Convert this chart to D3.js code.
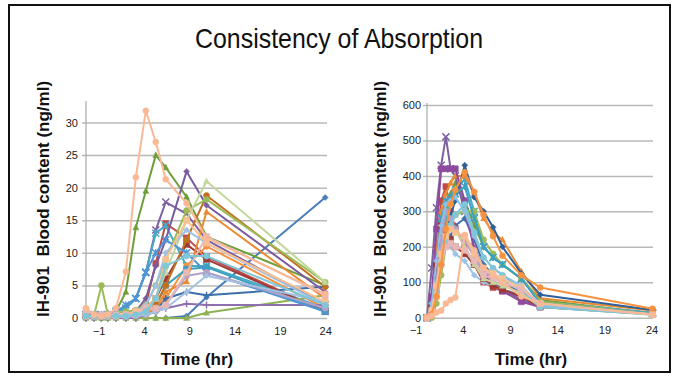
<!DOCTYPE html>
<html>
<head>
<meta charset="utf-8">
<script src="https://cdn.jsdelivr.net/npm/d3@7"></script>
<style>
  body { margin: 0; background: #fff; }
  svg { display: block; }
  text { font-family: "Liberation Sans", Arial, sans-serif; }
</style>
</head>
<body>
<div id="chart"></div>
<script>
// sample times (hr, as plotted on the axis)
const leftTimes = [-2.4, -1.5, -0.7, 0, 0.9, 2.0, 3.1, 4.2, 5.3, 6.4, 8.7, 10.9, 24];
const rightTimes = [0.2, 0.7, 1.2, 1.7, 2.2, 2.7, 3.2, 4.2, 5.2, 6.2, 7.2, 8.2, 10.2, 12.2, 24.1];

const xTicks = [-1, 4, 9, 14, 19, 24];
const leftYTicks = [0, 5, 10, 15, 20, 25, 30];
const rightYTicks = [0, 100, 200, 300, 400, 500, 600];

// left panel, ng/ml, one row per subject
const leftValues = [
  [0, 0, 0, 0, 0, 0, 0, 0, 0, 0, 0.3, 3.2, 18.5],
  [0.3, 0.3, 0.3, 0.3, 0.3, 0.5, 1, 2, 8.4, 14.5, 12.3, 9.4, 1],
  [0.5, 0.5, 0.5, 0.8, 1, 4, 13.9, 19.5, 25, 23.1, 18.6, 12.5, 5],
  [0.5, 0.5, 0.5, 0.5, 1, 1.5, 3, 7, 13.5, 17.8, 16, 12, 2],
  [0.5, 0.5, 0.5, 0.5, 1, 1.5, 3, 7, 13, 14.2, 8, 8, 1.5],
  [0.3, 0.3, 0.3, 0.3, 0.3, 0.3, 0.5, 0.5, 1.5, 3, 8, 11, 1.5],
  [0, 0, 0, 0, 0, 0, 0, 0.5, 1, 3, 4, 3.5, 4.8],
  [0.3, 0.3, 0.3, 0.3, 0.3, 0.5, 1, 1.5, 3, 6, 11.3, 9, 1],
  [0, 0, 0, 0, 0, 0, 0, 0, 0, 0, 0, 0.8, 3.5],
  [0.5, 0.3, 0.3, 0.5, 0.5, 0.5, 1, 3, 8, 12, 22.5, 17.3, 4],
  [0.3, 0.3, 0.3, 0.3, 0.3, 0.3, 0.5, 1, 2, 5, 7.5, 7.8, 1],
  [0.3, 0.3, 0.3, 0.3, 0.3, 0.3, 0.5, 0.5, 1.5, 4, 5.6, 16.3, 3],
  [0.3, 0.3, 0.3, 0.3, 0.3, 0.3, 0.5, 1, 2, 5, 12, 18.8, 4.8],
  [0.3, 0.5, 5, 0.6, 0.8, 1, 1.2, 2, 5, 9, 16.5, 18.2, 5.5],
  [0.3, 0.3, 0.3, 0.3, 0.3, 0.5, 0.5, 1, 3, 7, 15, 21, 5.5],
  [0, 0, 0, 0, 0, 0, 0, 0.5, 1, 1.5, 2.2, 2, 2],
  [0.5, 0.5, 0.5, 0.5, 1, 2, 3, 7, 10, 12, 10, 7, 1],
  [0.3, 0.3, 0.3, 0.3, 0.3, 0.5, 1, 2, 5, 10, 13.5, 11.5, 2],
  [0.2, 0.2, 0.2, 0.2, 0.2, 0.2, 0.3, 0.5, 1, 2, 6.5, 7, 1.5],
  [0.2, 0.2, 0.2, 0.2, 0.2, 0.2, 0.3, 0.5, 1, 1.5, 4, 6.5, 2.5],
  [0.3, 0.3, 0.3, 0.3, 0.3, 0.5, 1, 1.5, 3, 9, 15, 11.5, 2.5],
  [1.2, 0.5, 0.5, 0.5, 0.5, 0.5, 0.5, 1.5, 1.5, 2, 7, 12.5, 3.5],
  [0.3, 0.3, 0.3, 0.3, 0.3, 0.3, 0.5, 1, 3, 8, 9.5, 9.5, 2],
  [1.5, 0.5, 0.3, 0.5, 1.5, 7.1, 21.6, 31.8, 27, 21.3, 17.6, 12.3, 3.7]
];
const leftColors = ['#4a7ebb', '#be4b48', '#6f9e3a', '#7d60a0', '#46aac5', '#f69240',
  '#3d6fa8', '#9e3b38', '#8db152', '#7a5c9e', '#3ca0c0', '#ea8a32',
  '#c0701f', '#9bbb59', '#c3d69b', '#8e6fb0', '#4f95d6', '#9dc3e6',
  '#b3a2c7', '#a5c0e0', '#fac090', '#e6b9b8', '#7fc6d8', '#f9b996'];
const leftMarkers = ['diamond', 'square', 'triangle', 'x', 'star', 'circle',
  'plus', 'square', 'triangle', 'diamond', 'square', 'triangle',
  'circle', 'circle', 'triangle', 'plus', 'star', 'diamond',
  'circle', 'diamond', 'square', 'square', 'circle', 'circle'];

// right panel, ng/ml
const rightValues = [
  [0, 20, 100, 180, 200, 230, 260, 280, 220, 150, 120, 100, 70, 45, 10],
  [0, 50, 200, 330, 370, 300, 250, 200, 150, 100, 85, 75, 60, 40, 12],
  [0, 15, 90, 200, 300, 350, 380, 330, 260, 200, 170, 150, 110, 50, 12],
  [0, 140, 310, 430, 510, 420, 400, 300, 200, 130, 100, 80, 50, 35, 12],
  [0, 20, 80, 180, 270, 330, 360, 390, 300, 200, 170, 150, 110, 45, 15],
  [0, 40, 200, 300, 350, 380, 400, 400, 350, 280, 240, 220, 130, 55, 20],
  [0, 10, 60, 150, 240, 290, 330, 430, 340, 300, 255, 200, 125, 65, 22],
  [0, 60, 250, 420, 420, 420, 420, 330, 190, 120, 95, 75, 45, 30, 12],
  [0, 0, 40, 120, 200, 260, 290, 300, 300, 220, 180, 150, 110, 45, 12],
  [0, 30, 120, 200, 240, 200, 180, 160, 120, 100, 90, 80, 65, 30, 10],
  [0, 30, 150, 280, 330, 340, 350, 370, 280, 200, 170, 150, 110, 40, 12],
  [0, 30, 150, 260, 240, 220, 200, 180, 150, 110, 90, 80, 60, 30, 10],
  [0, 10, 60, 150, 220, 260, 250, 200, 150, 110, 100, 90, 70, 30, 10],
  [0, 20, 100, 220, 300, 280, 250, 220, 170, 130, 115, 100, 80, 35, 10],
  [0, 40, 160, 260, 320, 330, 340, 300, 230, 170, 140, 120, 90, 35, 10],
  [0, 15, 70, 150, 220, 260, 290, 320, 240, 170, 140, 120, 80, 30, 8],
  [0, 20, 90, 180, 230, 250, 240, 230, 180, 140, 125, 110, 85, 40, 10],
  [0, 10, 60, 150, 200, 210, 200, 190, 160, 120, 110, 100, 80, 40, 8],
  [0, 10, 60, 150, 250, 320, 360, 410, 355, 290, 230, 175, 120, 85, 25],
  [0, 5, 15, 20, 40, 50, 57, 233, 190, 140, 120, 100, 60, 40, 8]
];
const rightColors = ['#3d6fa8', '#be4b48', '#6f9e3a', '#7d60a0', '#46aac5', '#ea8a32',
  '#2f5f98', '#8e4a9e', '#9bbb59', '#9dc3e6', '#3ca0c0', '#9e3b38',
  '#c3d69b', '#b3a2c7', '#8fc1e8', '#7fc6d8', '#fac090', '#e6b9b8',
  '#f69240', '#f9b996'];
const rightMarkers = ['diamond', 'square', 'triangle', 'x', 'star', 'triangle',
  'diamond', 'square', 'circle', 'diamond', 'star', 'square',
  'triangle', 'circle', 'diamond', 'circle', 'square', 'square',
  'circle', 'circle'];

const width = 679;
const height = 381;

const svg = d3.select('#chart')
  .append('svg')
  .attr('width', width)
  .attr('height', height);

// outer frame
svg.append('rect')
  .attr('x', 9).attr('y', 5)
  .attr('width', 661).attr('height', 367)
  .attr('fill', '#fff')
  .attr('stroke', '#111')
  .attr('stroke-width', 2);

svg.append('text')
  .attr('x', 339)
  .attr('y', 48)
  .attr('text-anchor', 'middle')
  .attr('textLength', 288)
  .attr('lengthAdjust', 'spacingAndGlyphs')
  .style('font-size', '28px')
  .style('fill', '#111')
  .text('Consistency of Absorption');

function markerPath(type, s) {
  const h = s / 2;
  if (type === 'diamond') return `M0,${-h}L${h},0L0,${h}L${-h},0Z`;
  if (type === 'square') return `M${-h},${-h}h${s}v${s}h${-s}Z`;
  if (type === 'triangle') return `M0,${-h * 1.1}L${h},${h * 0.8}L${-h},${h * 0.8}Z`;
  if (type === 'circle') return d3.symbol(d3.symbolCircle, s * s * 0.8)();
  if (type === 'x') return `M${-h},${-h}L${h},${h}M${-h},${h}L${h},${-h}`;
  if (type === 'plus') return `M${-h},0L${h},0M0,${-h}L0,${h}`;
  // star = x with a vertical bar
  return `M${-h},${-h}L${h},${h}M${-h},${h}L${h},${-h}M0,${-h}L0,${h}`;
}

function drawPanel(opts) {
  const x = d3.scaleLinear().domain(opts.xDomain).range(opts.xRange);
  const y = d3.scaleLinear().domain(opts.yDomain).range(opts.yRange);
  const g = svg.append('g');

  // gridlines + y labels
  const yAxis = g.append('g')
    .attr('transform', `translate(${opts.gridStart},0)`)
    .call(d3.axisLeft(y)
      .tickValues(opts.yTicks)
      .tickSize(-(opts.xRange[1] - opts.gridStart))
      .tickPadding(opts.labelPad));
  yAxis.select('.domain').remove();
  yAxis.selectAll('line').attr('stroke', '#b8b8b8').attr('stroke-width', 1.5);
  yAxis.selectAll('text').style('font-size', '11px').attr('fill', '#222');

  // vertical axis line
  g.append('line')
    .attr('x1', opts.xRange[0]).attr('x2', opts.xRange[0])
    .attr('y1', opts.yRange[0]).attr('y2', opts.yRange[1] - 2)
    .attr('stroke', '#a8a8a8')
    .attr('stroke-width', 1.2);

  const xAxis = g.append('g')
    .attr('transform', `translate(0,${opts.yRange[0]})`)
    .call(d3.axisBottom(x).tickValues(xTicks).tickSize(0).tickPadding(9));
  xAxis.select('.domain').remove();
  xAxis.selectAll('text').style('font-size', '11px').attr('fill', '#222');

  const line = d3.line()
    .x((d, i) => x(opts.times[i]))
    .y(d => y(d));

  opts.values.forEach((vals, k) => {
    const col = opts.colors[k];
    const type = opts.markers[k];
    const s = g.append('g');
    s.append('path')
      .datum(vals)
      .attr('d', line)
      .attr('fill', 'none')
      .attr('stroke', col)
      .attr('stroke-width', 2)
      .attr('stroke-linejoin', 'round');
    const open = type === 'x' || type === 'plus' || type === 'star';
    s.selectAll('path.m')
      .data(vals)
      .enter().append('path')
      .attr('class', 'm')
      .attr('transform', (d, i) => `translate(${x(opts.times[i])},${y(d)})`)
      .attr('d', markerPath(type, open ? 7 : 6))
      .attr('fill', open ? 'none' : col)
      .attr('stroke', col)
      .attr('stroke-width', open ? 1.5 : 0.5);
  });

  // axis titles
  g.append('text')
    .attr('transform', `translate(${opts.yTitleX},${opts.yTitleY}) rotate(-90)`)
    .attr('text-anchor', 'middle')
    .style('font-size', '17px')
    .style('font-weight', 'bold')
    .style('white-space', 'pre')
    .attr('fill', '#111')
    .text('IH-901  Blood content (ng/ml)');

  g.append('text')
    .attr('x', opts.xTitleX)
    .attr('y', 365)
    .attr('text-anchor', 'middle')
    .style('font-size', '17px')
    .style('font-weight', 'bold')
    .attr('fill', '#111')
    .text('Time (hr)');
}

drawPanel({
  times: leftTimes, values: leftValues, colors: leftColors, markers: leftMarkers,
  xDomain: [-2.4, 24.2], xRange: [86, 327],
  yDomain: [0, 33], yRange: [318, 103], yTicks: leftYTicks,
  gridStart: 82, labelPad: 4,
  yTitleX: 49, yTitleY: 199, xTitleX: 197
});

drawPanel({
  times: rightTimes, values: rightValues, colors: rightColors, markers: rightMarkers,
  xDomain: [0.2, 24.15], xRange: [427, 653],
  yDomain: [0, 600], yRange: [317.7, 105], yTicks: rightYTicks,
  gridStart: 423, labelPad: 2,
  yTitleX: 386, yTitleY: 199, xTitleX: 531
});
</script>
</body>
</html>
